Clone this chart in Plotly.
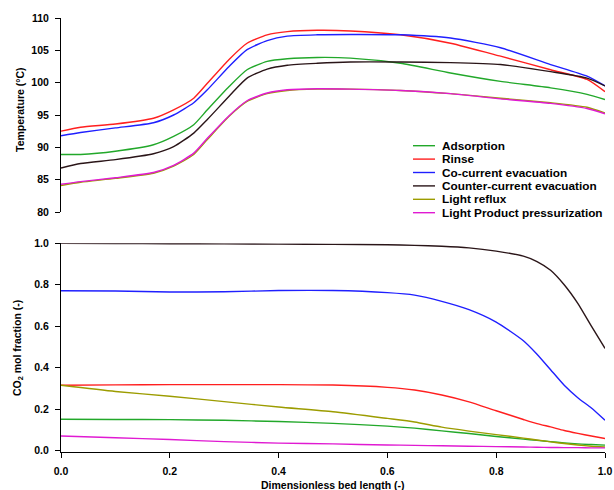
import plotly.graph_objects as go

# ---------------- data ----------------
series_names = ["Adsorption", "Rinse", "Co-current evacuation",
                "Counter-current evacuation", "Light reflux",
                "Light Product pressurization"]
series_colors = ["#22a82a", "#ff1f1f", "#1f1fff", "#2a1518", "#9c9c00", "#e01ad2"]

x_temp = [0, 0.036, 0.1, 0.17, 0.207, 0.244, 0.269, 0.309, 0.342, 0.379,
          0.416, 0.471, 0.532, 0.624, 0.716, 0.808, 0.9, 0.967, 1.0]
temp_adsorption = [88.9, 88.9, 89.4, 90.4, 91.7, 93.5, 95.8, 99.4, 102.0, 103.3,
                   103.7, 103.9, 103.8, 103.0, 101.5, 100.2, 99.2, 98.2, 97.4]
temp_rinse = [92.5, 93.1, 93.6, 94.5, 95.8, 97.6, 99.9, 103.6, 106.1, 107.4,
              107.9, 108.1, 108.0, 107.4, 106.1, 104.1, 102.0, 100.5, 98.6]
temp_cocurrent = [91.8, 92.3, 93.0, 93.8, 95.0, 96.9, 98.9, 102.5, 105.1, 106.5,
                  107.2, 107.4, 107.45, 107.4, 106.9, 105.4, 102.8, 101.0, 99.5]
temp_countercurrent = [86.8, 87.5, 88.1, 89.0, 90.1, 92.2, 94.3, 97.9, 100.7, 102.1,
                       102.7, 103.0, 103.2, 103.2, 103.1, 102.8, 101.7, 100.7, 99.5]
temp_lightreflux = [84.1, 84.6, 85.2, 86.0, 87.1, 88.9, 91.2, 94.8, 97.1, 98.3,
                    98.8, 99.0, 99.0, 98.8, 98.3, 97.6, 96.9, 96.2, 95.3]
temp_lpp = [84.3, 84.7, 85.3, 86.1, 87.2, 89.1, 91.4, 94.9, 97.2, 98.4,
            98.9, 99.05, 99.0, 98.8, 98.3, 97.5, 96.8, 96.0, 95.2]

x_frac = [0, 0.1, 0.2, 0.3, 0.4, 0.5, 0.6, 0.65, 0.7, 0.75, 0.8, 0.85,
          0.875, 0.9, 0.925, 0.95, 0.975, 1.0]
co2_adsorption = [0.151, 0.150, 0.149, 0.146, 0.140, 0.131, 0.118, 0.108, 0.095,
                  0.082, 0.068, 0.055, 0.049, 0.043, 0.037, 0.032, 0.029, 0.026]
co2_rinse = [0.315, 0.317, 0.318, 0.318, 0.318, 0.316, 0.305, 0.292, 0.268,
             0.235, 0.192, 0.150, 0.130, 0.114, 0.097, 0.083, 0.070, 0.058]
co2_cocurrent = [0.771, 0.770, 0.765, 0.766, 0.772, 0.772, 0.762, 0.750, 0.720,
                 0.680, 0.620, 0.530, 0.465, 0.390, 0.315, 0.255, 0.205, 0.146]
co2_countercurrent = [1.0, 0.999, 0.998, 0.997, 0.996, 0.995, 0.993, 0.990, 0.986,
                      0.978, 0.962, 0.938, 0.912, 0.870, 0.800, 0.710, 0.600, 0.493]
co2_lightreflux = [0.315, 0.285, 0.262, 0.236, 0.210, 0.187, 0.155, 0.138, 0.113,
                   0.094, 0.077, 0.060, 0.051, 0.042, 0.034, 0.027, 0.021, 0.017]
co2_lpp = [0.070, 0.062, 0.053, 0.043, 0.036, 0.032, 0.027, 0.025, 0.023,
           0.021, 0.019, 0.017, 0.016, 0.015, 0.014, 0.014, 0.013, 0.013]

temp_series = [temp_adsorption, temp_rinse, temp_cocurrent, temp_countercurrent,
               temp_lightreflux, temp_lpp]
co2_series = [co2_adsorption, co2_rinse, co2_cocurrent, co2_countercurrent,
              co2_lightreflux, co2_lpp]

temp_ticks = [80, 85, 90, 95, 100, 105, 110]
frac_ticks = [0.0, 0.2, 0.4, 0.6, 0.8, 1.0]

# ---------------- layout geometry ----------------
W, H = 614, 490
ML, MR, MT, MB = 61, 9, 18, 38
PW, PH = W - ML - MR, H - MT - MB


def px_x(px):
    return (px - ML) / PW


def px_y(py):
    return (H - MB - py) / PH


FONT = "Liberation Sans, Arial, sans-serif"
LW = 1.4

fig = go.Figure()
for name, col, ys in zip(series_names, series_colors, temp_series):
    fig.add_trace(go.Scatter(x=x_temp, y=ys, mode="lines", name=name,
                             line=dict(color=col, width=LW, shape="spline", smoothing=0.6),
                             xaxis="x2", yaxis="y2", showlegend=False))
for name, col, ys in zip(series_names, series_colors, co2_series):
    fig.add_trace(go.Scatter(x=x_frac, y=ys, mode="lines", name=name,
                             line=dict(color=col, width=LW, shape="spline", smoothing=0.6),
                             xaxis="x", yaxis="y", showlegend=False))

tickfont = dict(family=FONT, size=10.5, color="black", weight="bold")
axis_common = dict(showline=True, linecolor="black", linewidth=1, ticks="outside",
                   ticklen=5, tickwidth=1, tickcolor="black", showgrid=False,
                   zeroline=False, tickfont=tickfont)

top_bottom_px = 212
bottom_top_px = 243.3

fig.update_layout(
    width=W, height=H,
    margin=dict(l=ML, r=MR, t=MT, b=MB, pad=0, autoexpand=False),
    paper_bgcolor="white", plot_bgcolor="white",
    showlegend=False,
    xaxis=dict(domain=[0, 1], range=[0, 1], anchor="y", tickvals=frac_ticks,
               tickformat=".1f", ticklabelstandoff=4, **axis_common),
    yaxis=dict(domain=[0, px_y(bottom_top_px)], range=[-0.007, 1.0], anchor="x",
               tickvals=frac_ticks, tickformat=".1f", ticklabelstandoff=4, **axis_common),
    xaxis2=dict(domain=[0, 1], range=[0, 1], anchor="y2", matches="x",
                showline=False, showticklabels=False, ticks="", showgrid=False,
                zeroline=False),
    yaxis2=dict(domain=[px_y(top_bottom_px), 1], range=[80, 110], anchor="x2",
                tickvals=temp_ticks, ticklabelstandoff=4, **axis_common),
)

annotations = []
shapes = []
title_font = dict(family=FONT, size=10.5, color="black", weight="bold")
annotations.append(dict(text="Dimensionless bed length (-)", xref="paper", yref="paper",
                        x=0.5, y=px_y(485), xanchor="center", yanchor="middle",
                        showarrow=False, font=title_font))
annotations.append(dict(text="Temperature (°C)", xref="paper", yref="paper",
                        x=px_x(20), y=px_y(110), xanchor="center", yanchor="middle",
                        textangle=-90, showarrow=False, font=title_font))
annotations.append(dict(text="CO<sub>2</sub> mol fraction (-)", xref="paper", yref="paper",
                        x=px_x(18), y=px_y(348), xanchor="center", yanchor="middle",
                        textangle=-90, showarrow=False, font=title_font))

# legend (drawn manually for tight row spacing)
legend_row0, legend_step = 145.7, 13.4
for i, (name, col) in enumerate(zip(series_names, series_colors)):
    py = legend_row0 + i * legend_step
    shapes.append(dict(type="line", xref="paper", yref="paper",
                       x0=px_x(413), x1=px_x(435), y0=px_y(py), y1=px_y(py),
                       line=dict(color=col, width=LW)))
    annotations.append(dict(text=name, xref="paper", yref="paper",
                            x=px_x(440), y=px_y(py), xanchor="left", yanchor="middle",
                            showarrow=False,
                            font=dict(family=FONT, size=11.8, color="black", weight="bold")))

fig.update_layout(annotations=annotations, shapes=shapes)
fig.write_html("out.html",
               config={"displayModeBar": False},
               post_script="document.body.style.margin='0px';"
                           "document.body.style.overflow='hidden';")
